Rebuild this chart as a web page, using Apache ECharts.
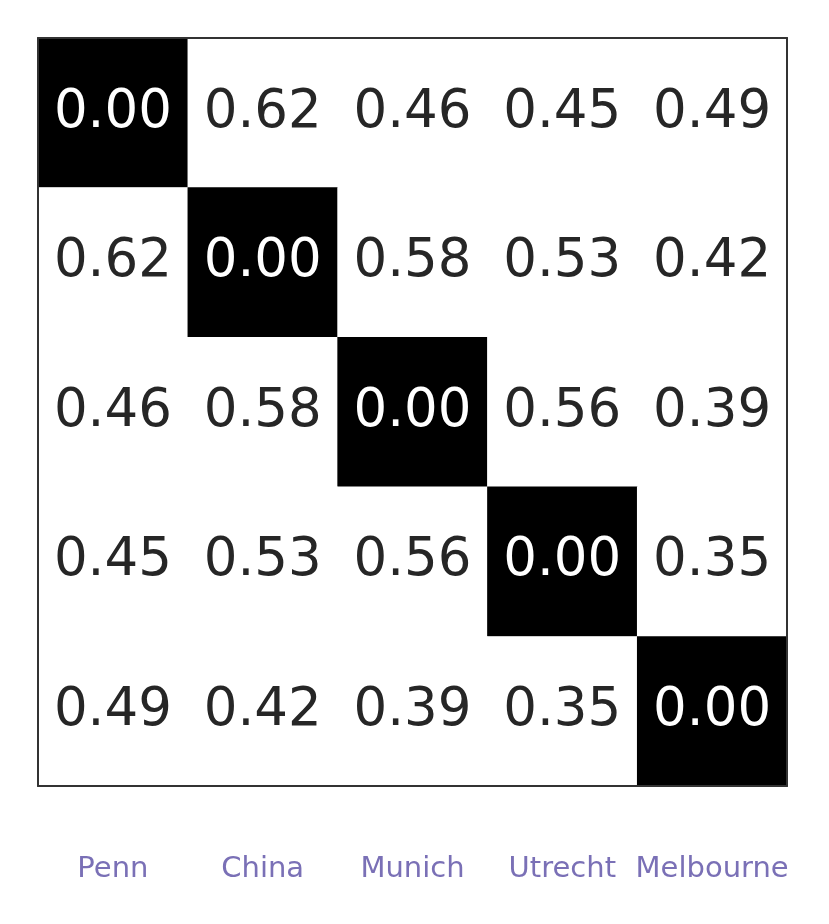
<!DOCTYPE html>
<html>
<head>
<meta charset="utf-8">
<style>
  html, body { margin: 0; padding: 0; background: #fff; }
  #chart { width: 829px; height: 924px; }
</style>
<script src="https://cdn.jsdelivr.net/npm/echarts@6/dist/echarts.min.js"></script>
</head>
<body>
<div id="chart"></div>
<script>
// sitios y matriz de distancias
const sites = ['Penn', 'China', 'Munich', 'Utrecht', 'Melbourne'];
const row0 = [0.00, 0.62, 0.46, 0.45, 0.49];
const row1 = [0.62, 0.00, 0.58, 0.53, 0.42];
const row2 = [0.46, 0.58, 0.00, 0.56, 0.39];
const row3 = [0.45, 0.53, 0.56, 0.00, 0.35];
const row4 = [0.49, 0.42, 0.39, 0.35, 0.00];
const rows = [row0, row1, row2, row3, row4];

const data = [];
rows.forEach((row, y) => {
    row.forEach((v, x) => {
        data.push({
            value: [x, y, v],
            itemStyle: { color: v === 0 ? '#000000' : '#ffffff' },
            label: { color: v === 0 ? '#ffffff' : '#262626' }
        });
    });
});

const chart = echarts.init(document.getElementById('chart'));

const borde = () => ({ show: true, onZero: false, lineStyle: { color: '#333333', width: 2 } });

const option = {
    animation: false,
    backgroundColor: '#ffffff',
    grid: { left: 38, top: 38, width: 749, height: 748 },
    xAxis: [
        {
            type: 'category',
            data: sites,
            position: 'bottom',
            z: 10,
            axisLine: borde(),
            axisTick: { show: false },
            splitLine: { show: false },
            axisLabel: {
                margin: 69,
                fontSize: 29,
                color: '#7a70b6',
                fontFamily: 'DejaVu Sans',
                interval: 0
            }
        },
        {
            type: 'category',
            data: sites,
            position: 'top',
            z: 10,
            axisLine: borde(),
            axisTick: { show: false },
            axisLabel: { show: false }
        }
    ],
    yAxis: [
        {
            type: 'category',
            data: sites,
            inverse: true,
            position: 'left',
            z: 10,
            axisLine: borde(),
            axisTick: { show: false },
            axisLabel: { show: false }
        },
        {
            type: 'category',
            data: sites,
            inverse: true,
            position: 'right',
            z: 10,
            axisLine: borde(),
            axisTick: { show: false },
            axisLabel: { show: false }
        }
    ],
    series: [{
        type: 'heatmap',
        data: data,
        label: {
            show: true,
            fontSize: 53,
            fontFamily: 'DejaVu Sans',
            formatter: p => p.value[2].toFixed(2)
        },
        emphasis: { disabled: true }
    }]
};

chart.setOption(option);
</script>
</body>
</html>
